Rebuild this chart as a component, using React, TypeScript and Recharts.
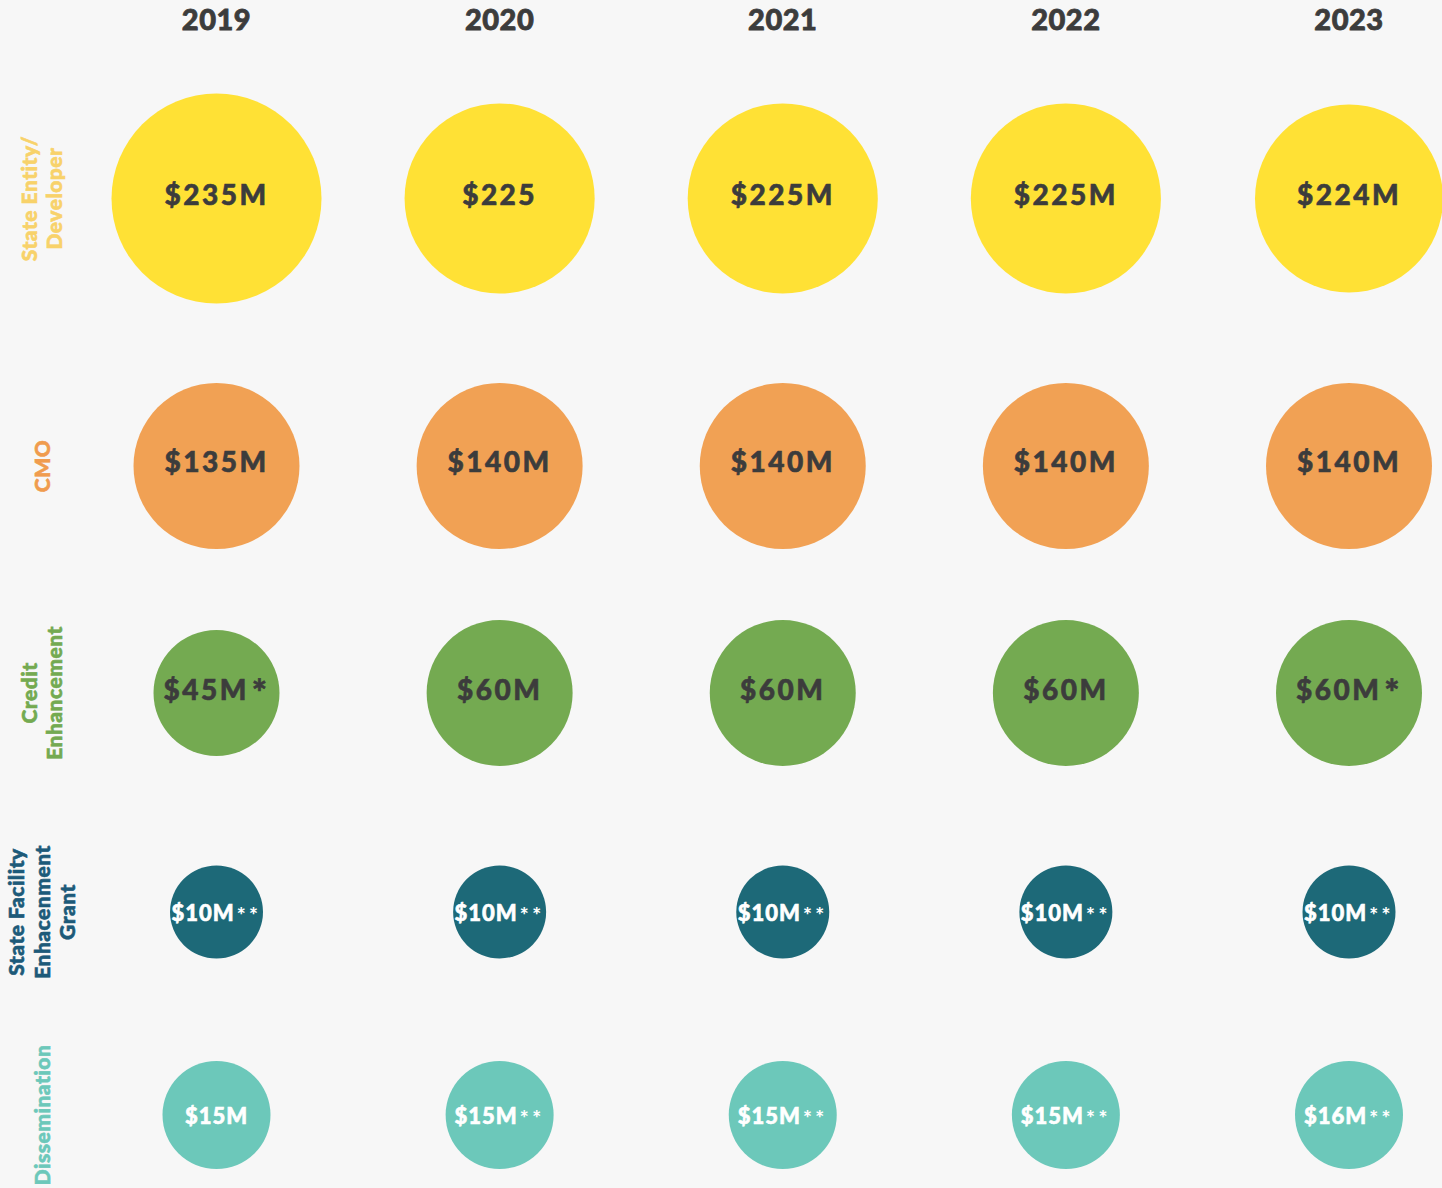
import React from 'react';
import { ScatterChart, Scatter, XAxis, YAxis, ZAxis } from 'recharts';

const years = [2019, 2020, 2021, 2022, 2023];
const rowNames = [
  'State Entity/\nDeveloper',
  'CMO',
  'Credit\nEnhancement',
  'State Facility\nEnhacenment\nGrant',
  'Dissemination',
];
const stateEntityValues = [235, 225, 225, 225, 224];
const stateEntityLabels = ['$235M', '$225', '$225M', '$225M', '$224M'];
const cmoValues = [135, 140, 140, 140, 140];
const cmoLabels = ['$135M', '$140M', '$140M', '$140M', '$140M'];
const creditValues = [45, 60, 60, 60, 60];
const creditLabels = ['$45M*', '$60M', '$60M', '$60M', '$60M*'];
const grantValues = [10, 10, 10, 10, 10];
const grantLabels = ['$10M**', '$10M**', '$10M**', '$10M**', '$10M**'];
const disseminationValues = [15, 15, 15, 15, 16];
const disseminationLabels = ['$15M', '$15M**', '$15M**', '$15M**', '$16M**'];

const area = (r: number) => Math.PI * r * r;
const FONT = 'Lato, "Noto Sans", sans-serif';
const DARK = '#3C3C3C';
const WIDTH = 1442;

type RowCfg = {
  name: string;
  values: number[];
  labels: string[];
  fill: string;
  textColor: string;
  labelColor: string;
  zDomain: [number, number];
  rRange: [number, number];
  height: number;
  top: number;
  showYears: boolean;
  fontSize: number;
  letterSpacing: number;
  textDy: number;
  small: boolean;
};

const rowsCfg: RowCfg[] = [
  {
    name: rowNames[0], values: stateEntityValues, labels: stateEntityLabels,
    fill: '#FFE135', textColor: DARK, labelColor: '#F8D26A',
    zDomain: [224, 235], rRange: [94, 105], height: 332, top: 0, showYears: true,
    fontSize: 28, letterSpacing: 2.5, textDy: -4, small: false,
  },
  {
    name: rowNames[1], values: cmoValues, labels: cmoLabels,
    fill: '#F1A154', textColor: DARK, labelColor: '#F09C4E',
    zDomain: [135, 140], rRange: [83, 83], height: 268, top: 0, showYears: false,
    fontSize: 28, letterSpacing: 2.5, textDy: -4, small: false,
  },
  {
    name: rowNames[2], values: creditValues, labels: creditLabels,
    fill: '#74AA51', textColor: DARK, labelColor: '#74AA51',
    zDomain: [45, 60], rRange: [63, 73], height: 186, top: 0, showYears: false,
    fontSize: 28, letterSpacing: 2.5, textDy: -3, small: false,
  },
  {
    name: rowNames[3], values: grantValues, labels: grantLabels,
    fill: '#1D6978', textColor: '#FFFFFF', labelColor: '#1D5A79',
    zDomain: [0, 10], rRange: [40, 46.5], height: 252, top: 0, showYears: false,
    fontSize: 22, letterSpacing: 1, textDy: 1, small: true,
  },
  {
    name: rowNames[4], values: disseminationValues, labels: disseminationLabels,
    fill: '#6CC8BA', textColor: '#FFFFFF', labelColor: '#6CC8BA',
    zDomain: [15, 16], rRange: [54, 54], height: 150, top: 4, showYears: false,
    fontSize: 22, letterSpacing: 1, textDy: 1, small: true,
  },
];

const YearTick = (props: any) => {
  const { x, payload } = props;
  return (
    <text
      x={x}
      y={30}
      textAnchor="middle"
      fontFamily={FONT}
      fontWeight={900}
      fontSize={29}
      fill={DARK}
      stroke={DARK}
      strokeWidth={0.8}
      letterSpacing={0.5}
    >
      {payload.value}
    </text>
  );
};

const makeRowTick = (color: string) => (props: any) => {
  const { y, payload } = props;
  const lines = String(payload.value).split('\n');
  const n = lines.length;
  return (
    <g transform={`translate(42, ${y}) rotate(-90)`}>
      <text
        textAnchor="middle"
        fontFamily={FONT}
        fontWeight={900}
        fontSize={21}
        fill={color}
        stroke={color}
        strokeWidth={0.6}
        letterSpacing={0.5}
      >
        {lines.map((l, i) => (
          <tspan key={i} x={0} y={(i - (n - 1) / 2) * 25.5 + 7.5}>{l}</tspan>
        ))}
      </text>
    </g>
  );
};

const makeShape = (cfg: RowCfg) => (props: any) => {
  const { cx, cy, payload } = props;
  const r = props.size != null ? Math.sqrt(props.size / Math.PI) : props.width / 2;
  const label: string = payload.label;
  const m = label.match(/^(.*?)(\*+)$/);
  const main = m ? m[1] : label;
  const stars = m ? m[2] : '';
  const baseline = cy + cfg.textDy + cfg.fontSize * 0.36;
  return (
    <g>
      <circle cx={cx} cy={cy} r={r} fill={cfg.fill} />
      <text
        x={cx}
        y={baseline}
        textAnchor="middle"
        fontFamily={FONT}
        fontWeight={900}
        fontSize={cfg.fontSize}
        letterSpacing={cfg.letterSpacing}
        fill={cfg.textColor}
        stroke={cfg.textColor}
        strokeWidth={0.6}
      >
        {main}
        {stars ? (
          cfg.small ? (
            <tspan dx={2} dy={2} fontSize={21} letterSpacing={3.5} strokeWidth={0}>{stars}</tspan>
          ) : (
            <tspan dx={3} dy={6} fontSize={36}>{stars}</tspan>
          )
        ) : null}
      </text>
    </g>
  );
};

const RowChart = ({ cfg }: { cfg: RowCfg }) => {
  const data = years.map((year, i) => ({
    year,
    row: cfg.name,
    value: cfg.values[i],
    label: cfg.labels[i],
  }));
  return (
    <ScatterChart
      width={WIDTH}
      height={cfg.height}
      margin={{ top: cfg.top, right: 93, bottom: 0, left: 0 }}
      style={{ display: 'block' }}
    >
      <XAxis
        dataKey="year"
        type="number"
        domain={[2019, 2023]}
        ticks={years}
        orientation="top"
        height={65}
        axisLine={false}
        tickLine={false}
        hide={!cfg.showYears}
        tick={<YearTick />}
        interval={0}
      />
      <YAxis
        dataKey="row"
        type="category"
        scale="point"
        allowDuplicatedCategory={false}
        width={216.5}
        axisLine={false}
        tickLine={false}
        tick={makeRowTick(cfg.labelColor)}
      />
      <ZAxis
        dataKey="value"
        type="number"
        domain={cfg.zDomain}
        range={[area(cfg.rRange[0]), area(cfg.rRange[1])]}
      />
      <Scatter data={data} isAnimationActive={false} shape={makeShape(cfg)} />
    </ScatterChart>
  );
};

export default function App() {
  return (
    <div
      style={{
        position: 'absolute',
        top: 0,
        left: 0,
        width: WIDTH,
        height: 1188,
        overflow: 'hidden',
        background: '#F7F7F7',
      }}
    >
      {rowsCfg.map((cfg, i) => (
        <RowChart key={i} cfg={cfg} />
      ))}
    </div>
  );
}
